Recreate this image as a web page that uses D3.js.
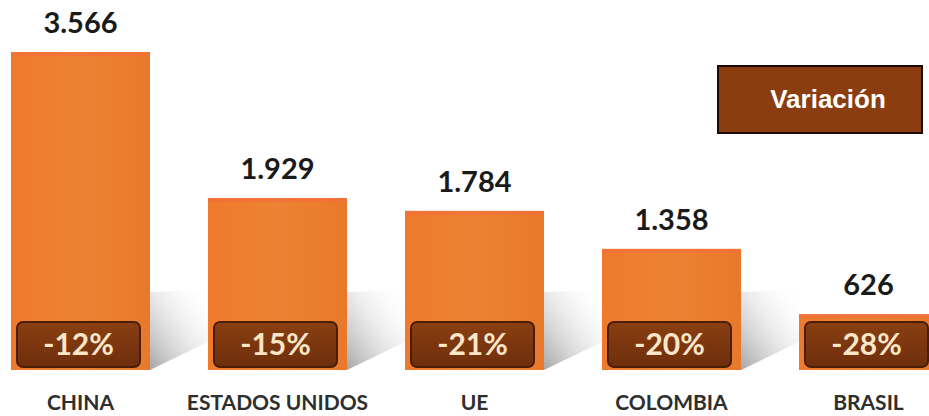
<!DOCTYPE html>
<html><head><meta charset="utf-8">
<script src="https://cdn.jsdelivr.net/npm/d3@7"></script>
<style>html,body{margin:0;padding:0;background:#fff;overflow:hidden}</style>
</head><body><svg id="c" width="929" height="416"></svg>
<script>
const categories = ["CHINA","ESTADOS UNIDOS","UE","COLOMBIA","BRASIL"];
const values = [3566,1929,1784,1358,626];
const valueLabels = ["3.566","1.929","1.784","1.358","626"];
const variations = ["-12%","-15%","-21%","-20%","-28%"];
const legendLabel = "Variación";

const svg = d3.select("#c");
const baseY = 370, topY = 52;
const x = d3.scaleBand().domain(categories).range([11, 938]).paddingInner(0.2944).paddingOuter(0);
const y = d3.scaleLinear().domain([0, 3566]).range([baseY, topY]);

const defs = svg.append("defs");
const bg = defs.append("linearGradient").attr("id","barg").attr("x1",0).attr("x2",1).attr("y1",0).attr("y2",0);
bg.append("stop").attr("offset",0).attr("stop-color","#f07a2c");
bg.append("stop").attr("offset",0.5).attr("stop-color","#ec8233");
bg.append("stop").attr("offset",1).attr("stop-color","#e9792a");
const sg = defs.append("linearGradient").attr("id","shg").attr("x1",0).attr("x2",1).attr("y1",1).attr("y2",0);
sg.append("stop").attr("offset",0).attr("stop-color","#8f8f8f").attr("stop-opacity",0.8);
sg.append("stop").attr("offset",1).attr("stop-color","#ffffff").attr("stop-opacity",0);
const bdg = defs.append("linearGradient").attr("id","bdg").attr("x1",0).attr("x2",0).attr("y1",0).attr("y2",1);
bdg.append("stop").attr("offset",0).attr("stop-color","#8a3f12");
bdg.append("stop").attr("offset",1).attr("stop-color","#6e2e0c");

const bw = x.bandwidth();
const g = svg.append("g");

// shadows
g.selectAll(".sh").data(categories).join("path")
  .attr("d", d => {
    const r = x(d) + bw;
    return `M${r},${baseY-78} L${r+58},${baseY-80} L${r+58},${baseY-28} L${r},${baseY} Z`;
  })
  .attr("fill","url(#shg)");

// bars
g.selectAll(".bar").data(categories).join("rect")
  .attr("x", d => x(d)).attr("width", bw)
  .attr("y", (d,i) => y(values[i])).attr("height", (d,i) => baseY - y(values[i]))
  .attr("fill","url(#barg)");
g.selectAll(".bartop").data(categories).join("rect")
  .attr("x", d => x(d)).attr("width", bw)
  .attr("y", (d,i) => y(values[i])).attr("height", 4)
  .attr("fill","#f2703a").attr("opacity",0.8);

// value labels
g.selectAll(".val").data(categories).join("text")
  .attr("x", d => x(d) + bw/2).attr("y", (d,i) => y(values[i]) - 19)
  .attr("text-anchor","middle")
  .attr("font-family","Lato, 'Open Sans', sans-serif").attr("font-weight","bold")
  .attr("font-size",29).attr("fill","#1a1a1a")
  .text((d,i) => valueLabels[i]);

// badges
const bx = d => x(d) + 6;
const bwid = bw - 16;
g.selectAll(".badge").data(categories).join("rect")
  .attr("x", bx).attr("y", 322).attr("width", bwid).attr("height", 45)
  .attr("rx", 6).attr("fill","url(#bdg)").attr("stroke","#4a1d05").attr("stroke-width",2);
g.selectAll(".var").data(categories).join("text")
  .attr("x", d => bx(d) + bwid/2).attr("y", 355)
  .attr("text-anchor","middle")
  .attr("font-family","Lato, 'Open Sans', sans-serif").attr("font-weight","bold")
  .attr("font-size",30).attr("fill","#fbe6c8")
  .text((d,i) => variations[i]);

// category labels
g.selectAll(".cat").data(categories).join("text")
  .attr("x", d => x(d) + bw/2).attr("y", 410)
  .attr("text-anchor","middle")
  .attr("font-family","Lato, 'Open Sans', sans-serif").attr("font-weight","bold")
  .attr("font-size",21).attr("fill","#2e2e2e")
  .text(d => d);

// legend box
const lg = svg.append("g");
lg.append("rect").attr("x",718).attr("y",66).attr("width",204).attr("height",67)
  .attr("fill","#8b3d10").attr("stroke","#1a0a02").attr("stroke-width",2);
lg.append("text").attr("x",828).attr("y",108).attr("text-anchor","middle")
  .attr("font-family","'Liberation Sans', Arial, sans-serif").attr("font-weight","bold")
  .attr("font-size",26).attr("fill","#ffffff").text(legendLabel);
</script></body></html>
